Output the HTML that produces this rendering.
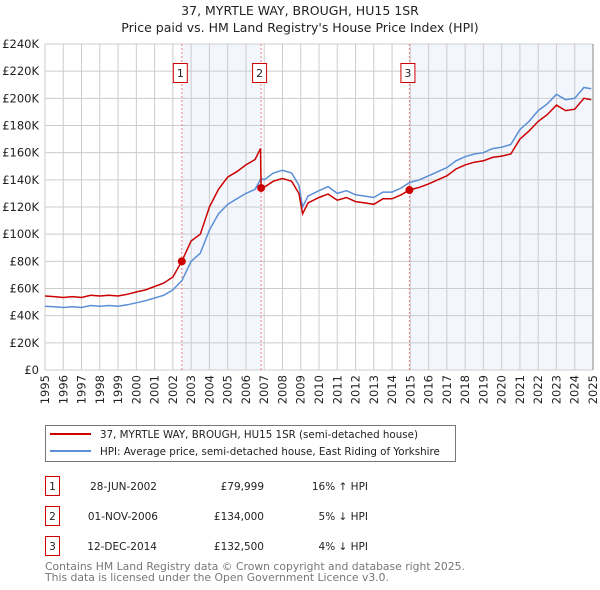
<!DOCTYPE html>
<html><head><meta charset="utf-8"><style>
body{margin:0;background:#fff;}
svg{display:block;font-family:"DejaVu Sans","Liberation Sans",sans-serif;}
</style></head><body>
<svg id="chart" width="600" height="590" viewBox="0 0 600 590" xmlns="http://www.w3.org/2000/svg">
<text x="300" y="15" text-anchor="middle" font-size="12.5" fill="#222">37, MYRTLE WAY, BROUGH, HU15 1SR</text>
<text x="300" y="32" text-anchor="middle" font-size="12.5" fill="#222">Price paid vs. HM Land Registry's House Price Index (HPI)</text>
<g id="shade"></g><g id="grid"></g><g id="axes"></g><g id="vlines"></g><g id="series"></g><g id="markers"></g>
<g>
<rect x="45.5" y="425.5" width="410" height="36" fill="#fff" stroke="#777"/>
<line x1="50" y1="434" x2="91" y2="434" stroke="#cc0000" stroke-width="2"/>
<text x="100" y="438" font-size="10.3" fill="#222">37, MYRTLE WAY, BROUGH, HU15 1SR (semi-detached house)</text>
<line x1="50" y1="451" x2="91" y2="451" stroke="#5b8fd6" stroke-width="2"/>
<text x="100" y="455" font-size="10.3" fill="#222">HPI: Average price, semi-detached house, East Riding of Yorkshire</text>
</g>
<g font-size="10.5" fill="#222">
<rect x="45.5" y="476.5" width="14" height="19" fill="#fff" stroke="#cc0000"/>
<text x="52.5" y="490" text-anchor="middle">1</text>
<text x="157" y="490" text-anchor="end">28-JUN-2002</text>
<text x="264" y="490" text-anchor="end">£79,999</text>
<text x="368" y="490" text-anchor="end">16% ↑ HPI</text>
<rect x="45.5" y="506.5" width="14" height="19" fill="#fff" stroke="#cc0000"/>
<text x="52.5" y="520" text-anchor="middle">2</text>
<text x="158" y="520" text-anchor="end">01-NOV-2006</text>
<text x="264" y="520" text-anchor="end">£134,000</text>
<text x="368" y="520" text-anchor="end">5% ↓ HPI</text>
<rect x="45.5" y="536.5" width="14" height="19" fill="#fff" stroke="#cc0000"/>
<text x="52.5" y="550" text-anchor="middle">3</text>
<text x="157" y="550" text-anchor="end">12-DEC-2014</text>
<text x="264" y="550" text-anchor="end">£132,500</text>
<text x="368" y="550" text-anchor="end">4% ↓ HPI</text>
</g>
<text x="45" y="570" font-size="10.8" fill="#777">Contains HM Land Registry data © Crown copyright and database right 2025.</text>
<text x="45" y="581" font-size="10.8" fill="#777">This data is licensed under the Open Government Licence v3.0.</text>
</svg>
<script>
const yTicks=[0,20,40,60,80,100,120,140,160,180,200,220,240];
const yTickLabels=["£0","£20K","£40K","£60K","£80K","£100K","£120K","£140K","£160K","£180K","£200K","£220K","£240K"];
const years=[1995,1996,1997,1998,1999,2000,2001,2002,2003,2004,2005,2006,2007,2008,2009,2010,2011,2012,2013,2014,2015,2016,2017,2018,2019,2020,2021,2022,2023,2024,2025];
const hpiT=[1995,1995.5,1996,1996.5,1997,1997.5,1998,1998.5,1999,1999.5,2000,2000.5,2001,2001.5,2002,2002.5,2003,2003.5,2004,2004.5,2005,2005.5,2006,2006.5,2006.83,2007,2007.5,2008,2008.5,2008.9,2009.1,2009.4,2010,2010.5,2011,2011.5,2012,2012.5,2013,2013.5,2014,2014.5,2014.95,2015.5,2016,2016.5,2017,2017.5,2018,2018.5,2019,2019.5,2020,2020.5,2021,2021.5,2022,2022.5,2023,2023.5,2024,2024.5,2024.9];
const hpiV=[47,46.5,46,46.5,46,47.5,47,47.5,47,48,49.5,51,53,55,59,66,80,86,103,115,122,126,130,133,141,140,145,147,145,136,120,128,132,135,130,132,129,128,127,131,131,134,138,140,143,146,149,154,157,159,160,163,164,166,177,183,191,196,203,199,200,208,207];
const priceT=[1995,1995.5,1996,1996.5,1997,1997.5,1998,1998.5,1999,1999.5,2000,2000.5,2001,2001.5,2002,2002.49,2003,2003.5,2004,2004.5,2005,2005.5,2006,2006.5,2006.8,2006.83,2007,2007.5,2008,2008.5,2008.9,2009.1,2009.4,2010,2010.5,2011,2011.5,2012,2012.5,2013,2013.5,2014,2014.5,2014.95,2015.5,2016,2016.5,2017,2017.5,2018,2018.5,2019,2019.5,2020,2020.5,2021,2021.5,2022,2022.5,2023,2023.5,2024,2024.5,2024.9];
const priceV=[54.5,54,53.4,54,53.4,55,54.5,55,54.5,55.7,57.4,59,61.5,64,68.5,80,95,100,120,133,142,146,151,155,163,134,134.5,139,141,139,130,115,123,127,129.5,125,127,124,123,122,126,126,129,132.5,134.5,137,140,143,148,151,153,154,156.5,157.5,159,170,176,183,188,195,191,192,200,199];
const saleT=[2002.49,2006.83,2014.95];
const saleV=[79.999,134,132.5];
const saleLabels=["1","2","3"];

const X0=45,X1=593,Y0=370,Y1=44;
const xs=t=>X0+(t-1995)/30*(X1-X0);
const ys=v=>Y0-v/240*(Y0-Y1);
const NS="http://www.w3.org/2000/svg";
function mk(parent,tag,attrs){const e=document.createElementNS(NS,tag);for(const k in attrs)e.setAttribute(k,attrs[k]);document.getElementById(parent).appendChild(e);return e;}

let r=mk('shade','rect',{x:xs(saleT[0]),y:Y1,width:xs(saleT[1])-xs(saleT[0]),height:Y0-Y1,fill:'#f3f6fd'});


r=mk('shade','rect',{x:xs(saleT[2]),y:Y1,width:X1-xs(saleT[2]),height:Y0-Y1,fill:'#f3f6fd'});



yTicks.forEach((v,i)=>{
 let l=mk('grid','line',{x1:X0,x2:X1,y1:ys(v),y2:ys(v),stroke:'#cccccc','stroke-width':1});
 
 
 let t=mk('axes','text',{x:39,y:ys(v)+4,'text-anchor':'end','font-size':11.5,fill:'#222'});
 t.textContent=yTickLabels[i];
 
 
});
years.forEach(y=>{
 let l=mk('grid','line',{x1:xs(y),x2:xs(y),y1:Y1,y2:Y0,stroke:'#cccccc','stroke-width':1});
 
 
 let t=mk('axes','text',{x:0,y:0,'text-anchor':'end','font-size':11.5,fill:'#222',transform:`translate(${xs(y)+4},375) rotate(-90)`});
 t.textContent=String(y);
 
 
});
let ax=mk('axes','line',{x1:X1,x2:X1,y1:Y1,y2:Y0,stroke:'#888','stroke-width':1});



saleT.forEach((t,i)=>{
 let l=mk('vlines','line',{x1:xs(t),x2:xs(t),y1:Y1,y2:Y0,stroke:'#e88080','stroke-width':1,'stroke-dasharray':'2,2'});
 
 
 let b=mk('markers','rect',{x:xs(t)-8.5,y:63.5,width:14,height:19,fill:'#fff',stroke:'#cc0000'});
 
 
 let tx=mk('markers','text',{x:xs(t)-1.5,y:77,'text-anchor':'middle','font-size':11,fill:'#222'});
 tx.textContent=saleLabels[i];
 
 
 let c=mk('markers','circle',{cx:xs(t),cy:ys(saleV[i]),r:4,fill:'#cc0000'});
 
 
});

let p=mk('series','polyline',{points:hpiT.map((t,i)=>xs(t).toFixed(1)+','+ys(hpiV[i]).toFixed(1)).join(' '),fill:'none',stroke:'#5b8fd6','stroke-width':1.5});


p=mk('series','polyline',{points:priceT.map((t,i)=>xs(t).toFixed(1)+','+ys(priceV[i]).toFixed(1)).join(' '),fill:'none',stroke:'#cc0000','stroke-width':1.5});


</script>
</body></html>
